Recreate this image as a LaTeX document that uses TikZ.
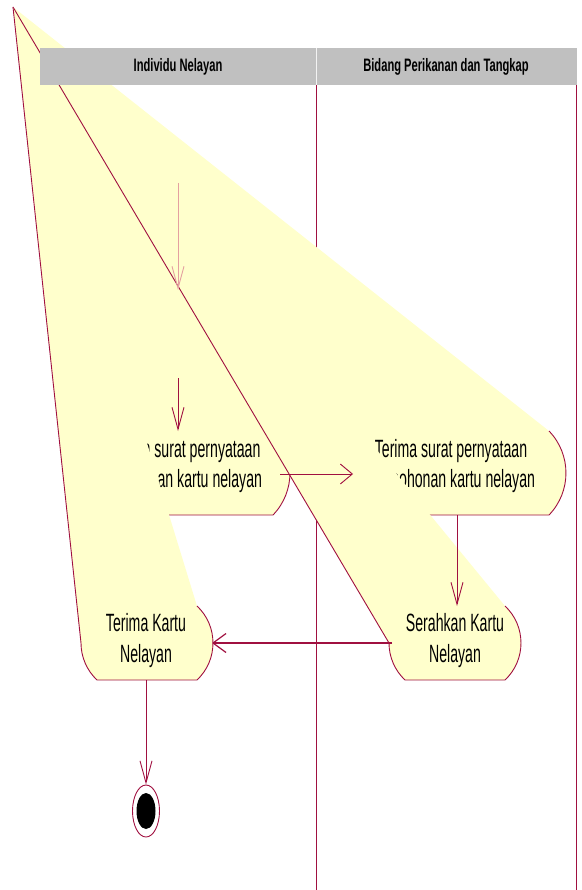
\documentclass[tikz,border=0pt]{standalone}
\usepackage{fontspec}
\setmainfont{Liberation Sans}
\newfontfamily\nodefont[FakeStretch=0.565]{Liberation Sans}
\newfontfamily\headfont[FakeStretch=0.62]{Liberation Sans}
\usetikzlibrary{arrows.meta,shapes.geometric}
\definecolor{umlred}{RGB}{160,16,64}
\definecolor{umlfill}{RGB}{255,255,204}
\definecolor{headgray}{RGB}{192,192,192}
\definecolor{lightarrow}{RGB}{228,160,160}
\begin{document}
\begin{tikzpicture}[x=1pt,y=-1pt,
  edge/.style={draw=umlred, line width=0.9pt},
  actfill/.style={fill=umlfill, draw=none},
  lane/.style={draw=umlred, line width=0.9pt},
  vflow/.style={draw=umlred, line width=0.9pt, -{Straight Barb[length=22pt,width=12pt]}},
  hflow/.style={draw=umlred, line width=0.9pt, -{Straight Barb[length=12pt,width=20pt]}},
  lbl/.style={font={\nodefont\fontsize{25}{31}\selectfont}, anchor=base, inner sep=0pt, text=black},
  headlbl/.style={font={\headfont\bfseries\fontsize{18}{22}\selectfont}, anchor=base, inner sep=0pt, text=black},
]
\useasboundingbox (0,0) rectangle (581,890);

\coordinate (A) at (13,7);

% swimlane lines
\draw[lane] (316,85) -- (316,890);
\draw[lane] (576.5,85) -- (576.5,890);

% activity 1 (Kirimkan surat ...)
\fill[umlfill] (A) -- (273,431) .. controls (295.6,454.4) and (295.6,491.6) .. (273,515) -- (83,515)
  .. controls (71.8,504.5) and (66,488) .. (66,473) -- cycle;
\draw[edge] (273,431) .. controls (295.6,454.4) and (295.6,491.6) .. (273,515) -- (100,515);
\node[lbl] (ks1) at (178,457) {Kirimkan surat pernyataan};
\node[lbl] (ks2) at (178,487.5) {permohonan kartu nelayan};

% activity 2 (Terima surat ...)
\fill[umlfill] (A) -- (549,431) .. controls (571.6,454.4) and (571.6,491.6) .. (549,515) -- (355,515)
  .. controls (343.8,504.5) and (338,488) .. (338,473) -- cycle;
\draw[edge] (549,431) .. controls (571.6,454.4) and (571.6,491.6) .. (549,515) -- (380,515);
\node[lbl] (ts1) at (451,457) {Terima surat pernyataan};
\node[lbl] (ts2) at (451,487.5) {permohonan kartu nelayan};

% activity 3 (Serahkan Kartu Nelayan)
\fill[umlfill] (A) -- (505,606) .. controls (526.3,626) and (526.3,660) .. (505,680) -- (405,680)
  .. controls (394.8,670.4) and (389,657) .. (389,643) -- cycle;
\draw[edge] (505,606) .. controls (526.3,626) and (526.3,660) .. (505,680) -- (405,680)
  .. controls (394.8,670.4) and (389,657) .. (389,643) -- (A);
\node[lbl] (sk1) at (455,631.5) {Serahkan Kartu};
\node[lbl] (sk2) at (455,662.5) {Nelayan};

% activity 4 (Terima Kartu Nelayan)
\fill[umlfill] (A) -- (197,606) .. controls (218.3,626) and (218.3,660) .. (197,680) -- (97,680)
  .. controls (86.8,670.4) and (81,657) .. (81,643) -- cycle;
\draw[edge] (197,606) .. controls (218.3,626) and (218.3,660) .. (197,680) -- (97,680)
  .. controls (86.8,670.4) and (81,657) .. (81,643) -- (A);
\node[lbl] (tk1) at (146,631.5) {Terima Kartu};
\node[lbl] (tk2) at (146,662.5) {Nelayan};

% header
\fill[headgray] (40,48) rectangle (577,85);
\draw[white!80!headgray, line width=0.8pt] (316,48) -- (316,85);
\node[headlbl] (h1) at (178,71.5) {Individu Nelayan};
\node[headlbl] (h2) at (446,71.5) {Bidang Perikanan dan Tangkap};

% final state
\node[draw=umlred, line width=0.9pt, ellipse, minimum width=27pt, minimum height=52pt, inner sep=0pt] (final) at (146,811) {};
\node[fill=black, ellipse, minimum width=19pt, minimum height=36pt, inner sep=0pt] (finaldot) at (146,811) {};

% connector end points
\coordinate (s0) at (178,183);
\coordinate (s0end) at (178,290);
\coordinate (ksin0) at (178,378);
\coordinate (ksin) at (178,431);
\coordinate (ksout) at (280,474);
\coordinate (tsin) at (353,474);
\coordinate (tsout) at (457,515);
\coordinate (skin) at (457,606);
\coordinate (skout) at (392,643);
\coordinate (tkin) at (212,643);
\coordinate (tkout) at (146,680);

% connectors
\draw[vflow, draw=lightarrow] (s0) -- (s0end);
\draw[vflow] (ksin0) -- (ksin);
\draw[hflow] (ksout) -- (tsin);
\draw[vflow] (tsout) -- (skin);
\draw[hflow, line width=1.8pt, -{Straight Barb[length=13pt,width=19pt,line width=1.2pt]}] (skout) -- (tkin);
\draw[vflow] (tkout) -- (final.north);
\end{tikzpicture}
\end{document}
